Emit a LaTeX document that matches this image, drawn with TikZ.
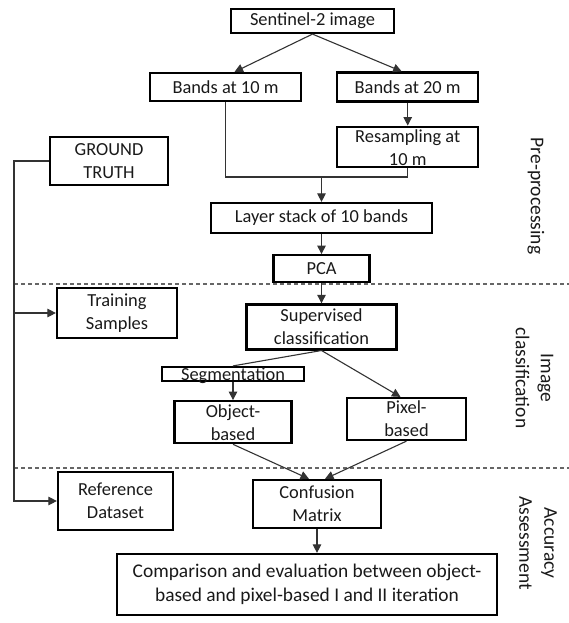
\documentclass[tikz,border=0pt]{standalone}
\usepackage{fontspec}
\setmainfont{Carlito}
\usetikzlibrary{positioning,arrows.meta,calc}

\begin{document}
\begin{tikzpicture}[x=1pt, y=-1pt, font=\fontsize{18.4}{23}\selectfont, node distance=20pt,
  box/.style={draw=black, line width=2.2pt, align=center, inner sep=2pt, text=black!90},
  side/.style={rotate=-90, align=center, font=\fontsize{19.5}{25}\selectfont, text=black!90},
  arr/.style={-{Triangle[length=8.5pt, width=8.5pt]}, line width=1.1pt, black!80},
  link/.style={line width=1.1pt, black!80},
  sep/.style={dash pattern=on 4pt off 3pt, line width=1.1pt, black!60}]
\useasboundingbox (0,0) rectangle (569,623);
% pre-processing
\node[box, minimum width=163pt, minimum height=24pt] (sent) at (312.5,21) {Sentinel-2 image};
\node[box, minimum width=151pt, minimum height=28pt] (b10) at (225.5,87) {Bands at 10 m};
\node[box, minimum width=141pt, minimum height=29pt, right=34pt of b10] (b20) {Bands at 20 m};
\node[box, minimum width=141pt, minimum height=40pt, inner ysep=0pt, text height=38pt, text depth=-2pt, below=23pt of b20] (resam) {Resampling at\\10 m};
\node[box, minimum width=118pt, minimum height=48pt] (gt) at (109,161) {GROUND\\TRUTH};
\node[box, minimum width=221pt, minimum height=30pt] (layer) at (321.5,218) {Layer stack of 10 bands};
\node[box, minimum width=96pt, minimum height=27pt, below=of layer] (pca) {PCA};
% image classification
\node[box, minimum width=150pt, minimum height=45pt, below=of pca] (sup) {Supervised\\classification};
\node[box, minimum width=120pt, minimum height=50pt] (train) at (117,313) {Training\\Samples};
\node[box, minimum width=142pt, inner ysep=0pt, text height=13pt, text depth=1pt] (seg) at (233,374) {Segmentation};
\node[box, minimum width=117pt, minimum height=42pt, below=18pt of seg] (obj) {Object-\\based};
\node[box, minimum width=119pt, minimum height=42pt] (pix) at (406.5,419) {Pixel-\\based};
% accuracy assessment
\node[box, minimum width=115pt, minimum height=58pt] (ref) at (115.5,501) {Reference\\Dataset};
\node[box, minimum width=128pt, minimum height=48pt] (conf) at (317,504) {Confusion\\Matrix};
\node[box, minimum width=380pt, minimum height=61pt, font=\fontsize{19.4}{24}\selectfont] (comp) at (307,584.5) {Comparison and evaluation between object-\\based and pixel-based I and II iteration};
% stage labels
\node[side] (lpre) at (536,196) {Pre-processing};
\node[side] (lcls) at (534.5,378) {Image\\classification};
\node[side] (lacc) at (538,543) {Accuracy\\Assessment};
\draw[sep] (14,284) -- (569,284);
\draw[sep] (14,468) -- (569,468);
% connectors
\coordinate (join) at (321.5,177);
\coordinate (rail) at (14,161);
\draw[arr] (sent.south) -- ($(b10.north)+(9,0)$);
\draw[arr] (sent.south) -- ($(b20.north)+(-6,0)$);
\draw[arr] (b20) -- (resam);
\draw[link] (b10.south) |- (join) -| (resam.south);
\draw[arr] (join) -- (layer.north);
\draw[arr] (layer) -- (pca);
\draw[arr] (pca) -- (sup);
\draw[link] (sup.south) -- (seg.north);
\draw[arr] (seg.south) -- (seg.south |- obj.north);
\draw[arr] (sup.south) -- ($(pix.north)+(-6,0)$);
\draw[arr] (obj.south) -- ($(conf.north)+(-8,0)$);
\draw[arr] (pix.south) -- ($(conf.north)+(8,0)$);
\draw[arr] (conf.south) -- (conf.south |- comp.north);
\draw[arr] (gt.west) -- (rail) |- (train.west);
\draw[arr] (rail) |- (ref.west);
\end{tikzpicture}
\end{document}
